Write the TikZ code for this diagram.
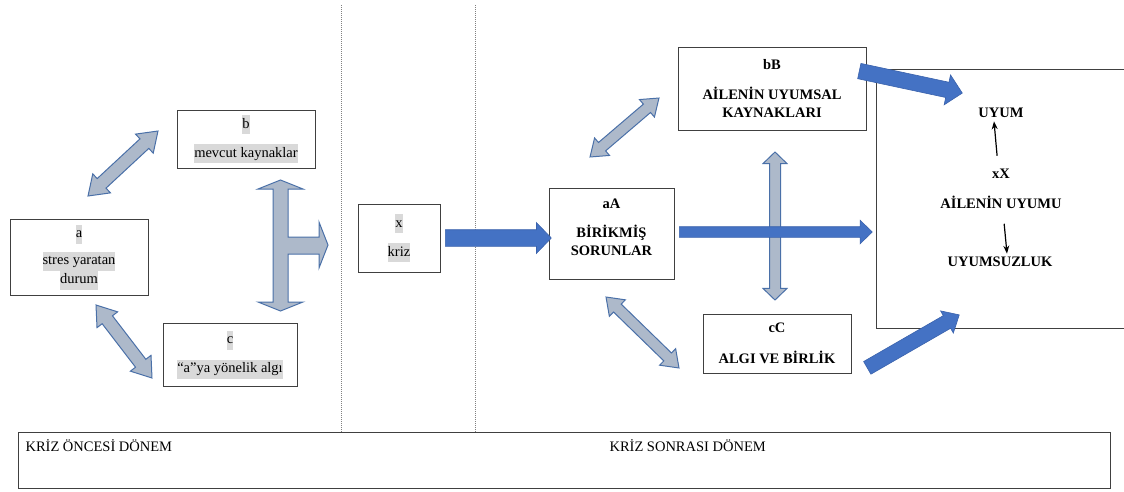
\documentclass[tikz,border=0pt]{standalone}
\usepackage{fontspec}
\setmainfont{Liberation Serif}
\usetikzlibrary{shapes.arrows, calc, arrows.meta}

\definecolor{boxline}{HTML}{404040}
\definecolor{hlgray}{HTML}{D9D9D9}
\definecolor{arrowgray}{HTML}{ADB9CA}
\definecolor{arrowedge}{HTML}{4A70A8}
\definecolor{arrowblue}{HTML}{4472C4}
\definecolor{arrowblueedge}{HTML}{3A62AC}

% grey text background
\newcommand{\hl}[1]{{\setlength{\fboxsep}{0pt}\colorbox{hlgray}{\strut#1}}}

% block arrow between two points: options, from, to, name
\newcommand{\biarrow}[4]{%
  \path let \p1=(#2), \p2=(#3), \n1={atan2(\y2-\y1,\x2-\x1)}, \n2={veclen(\x2-\x1,\y2-\y1)} in
    node[#1, rotate=\n1, minimum height=\n2] (#4) at ($(#2)!0.5!(#3)$) {};}
\newcommand{\uniarrow}[4]{%
  \path let \p1=(#2), \p2=(#3), \n1={atan2(\y2-\y1,\x2-\x1)}, \n2={veclen(\x2-\x1,\y2-\y1)} in
    node[#1, rotate=\n1, minimum height=\n2, anchor=tail] (#4) at (#2) {};}

\tikzset{
  box/.style={draw=boxline, line width=0.8pt, align=center, font=\fontsize{14.5}{19}\selectfont},
  boldbox/.style={box, font=\fontsize{14.5}{18}\selectfont\bfseries},
  label/.style={font=\fontsize{14.5}{18}\selectfont\bfseries},
  twoway/.style n args={3}{double arrow, fill=arrowgray, draw=arrowedge, line width=1pt,
    inner xsep=0pt, inner ysep=#1, double arrow head extend=#2, double arrow tip angle=#3},
  oneway/.style n args={3}{single arrow, fill=arrowblue, draw=arrowblueedge, line width=0.6pt,
    inner xsep=0pt, inner ysep=#1, single arrow head extend=#2, single arrow tip angle=#3},
  tinyarrow/.style={-{Stealth[length=8pt, width=6pt]}, line width=1.2pt},
  sep/.style={gray, line width=0.8pt, dash pattern=on 1pt off 1pt},
}

\begin{document}
\begin{tikzpicture}[x=1pt, y=-1pt]
\useasboundingbox (0,0) rectangle (1124,491);

% period separators
\draw[sep] (341,5) -- (341,432);
\draw[sep] (475,5) -- (475,432);

% before the crisis
\node[box, minimum width=138, minimum height=76] (a) at (79,257) {\hl{a}\\[8pt]\hl{stres yaratan}\\\hl{durum}};
\node[box, minimum width=138, minimum height=58] (b) at (246,139) {\hl{b}\\[10pt]\hl{mevcut kaynaklar}};
\node[box, minimum width=134, minimum height=63] (c) at (230,354.5) {\hl{c}\\[10pt]\hl{“a”ya yönelik algı}};
\node[box, minimum width=82, minimum height=68] (x) at (399,238) {\hl{x}\\[10pt]\hl{kriz}};

% after the crisis
\node[boldbox, minimum width=125, minimum height=91] (A) at (611.5,233.5) {aA\\[11pt]BİRİKMİŞ\\SORUNLAR\rule[-12pt]{0pt}{12pt}};
\node[boldbox, minimum width=188, minimum height=83] (B) at (772,88.5) {bB\\[12pt]AİLENİN UYUMSAL\\KAYNAKLARI};
\node[boldbox, minimum width=148, minimum height=59] (C) at (777,343.5) {cC\\[13pt]ALGI VE BİRLİK};

% family adaptation
\draw[boxline, line width=0.8pt] (1124,69) -- (876,69) -- (876,328) -- (1124,328);
\node[label] (uyum) at (1001,113) {UYUM};
\node[label] (X) at (1001,174) {xX};
\node[label] (aile) at (1001,202) {AİLENİN UYUMU};
\node[label] (uyumsuz) at (1000,262) {UYUMSUZLUK};
\draw[tinyarrow, shorten <=10pt] ([xshift=-3]X.north) -- ([xshift=-7]uyum.south);
\draw[tinyarrow, shorten <=12pt] ([xshift=2]aile.south) -- ([xshift=7]uyumsuz.north);

% arrow ends
\coordinate (ab1) at (88,196);  \coordinate (ab2) at (158,131);
\coordinate (ac1) at (96,305);  \coordinate (ac2) at (152,378);
\coordinate (AB1) at (590,157); \coordinate (AB2) at (659,98);
\coordinate (AC1) at (606,297); \coordinate (AC2) at (679,368);
\coordinate (BC1) at (775,152); \coordinate (BC2) at (775,300);
\coordinate (xA1) at (445,238); \coordinate (xA2) at (551,238);
\coordinate (AX1) at (679,232); \coordinate (AX2) at (872,232);
\coordinate (BX1) at (859,71);  \coordinate (BX2) at (962,93);
\coordinate (CX1) at (867,368); \coordinate (CX2) at (959,315);

\biarrow{twoway={6}{6.5}{70}}{ab1}{ab2}{ab}
\biarrow{twoway={6}{6.5}{70}}{ac1}{ac2}{ac}
\biarrow{twoway={5}{6}{72}}{AB1}{AB2}{AB}
\biarrow{twoway={5}{6}{72}}{AC1}{AC2}{AC}
\biarrow{twoway={5}{6.5}{92}}{BC1}{BC2}{BC}

% three-way arrow
\filldraw[fill=arrowgray, draw=arrowedge, line width=1pt]
  (280.5,180) -- (303,189) -- (288,189) -- (288,237) -- (319,237) -- (319,222) -- (328,245)
  -- (319,268) -- (319,254) -- (288,254) -- (288,302) -- (303,302) -- (280.5,311)
  -- (258,302) -- (273,302) -- (273,189) -- (258,189) -- cycle;

\uniarrow{oneway={8}{7}{92}}{xA1}{xA2}{xA}
\uniarrow{oneway={5}{6.5}{88}}{AX1}{AX2}{AX}
\uniarrow{oneway={7.5}{7.5}{90}}{BX1}{BX2}{BX}
\uniarrow{oneway={7}{5.5}{84}}{CX1}{CX2}{CX}

% periods
\node[draw=boxline, line width=0.8pt, minimum width=1092, minimum height=56] (period) at (564,460) {};
\node[anchor=base west, font=\fontsize{14.5}{18}\selectfont] (before) at (22,451) {KRİZ ÖNCESİ DÖNEM};
\node[anchor=base west, font=\fontsize{14.5}{18}\selectfont] (after) at (606,451) {KRİZ SONRASI DÖNEM};
\end{tikzpicture}
\end{document}
